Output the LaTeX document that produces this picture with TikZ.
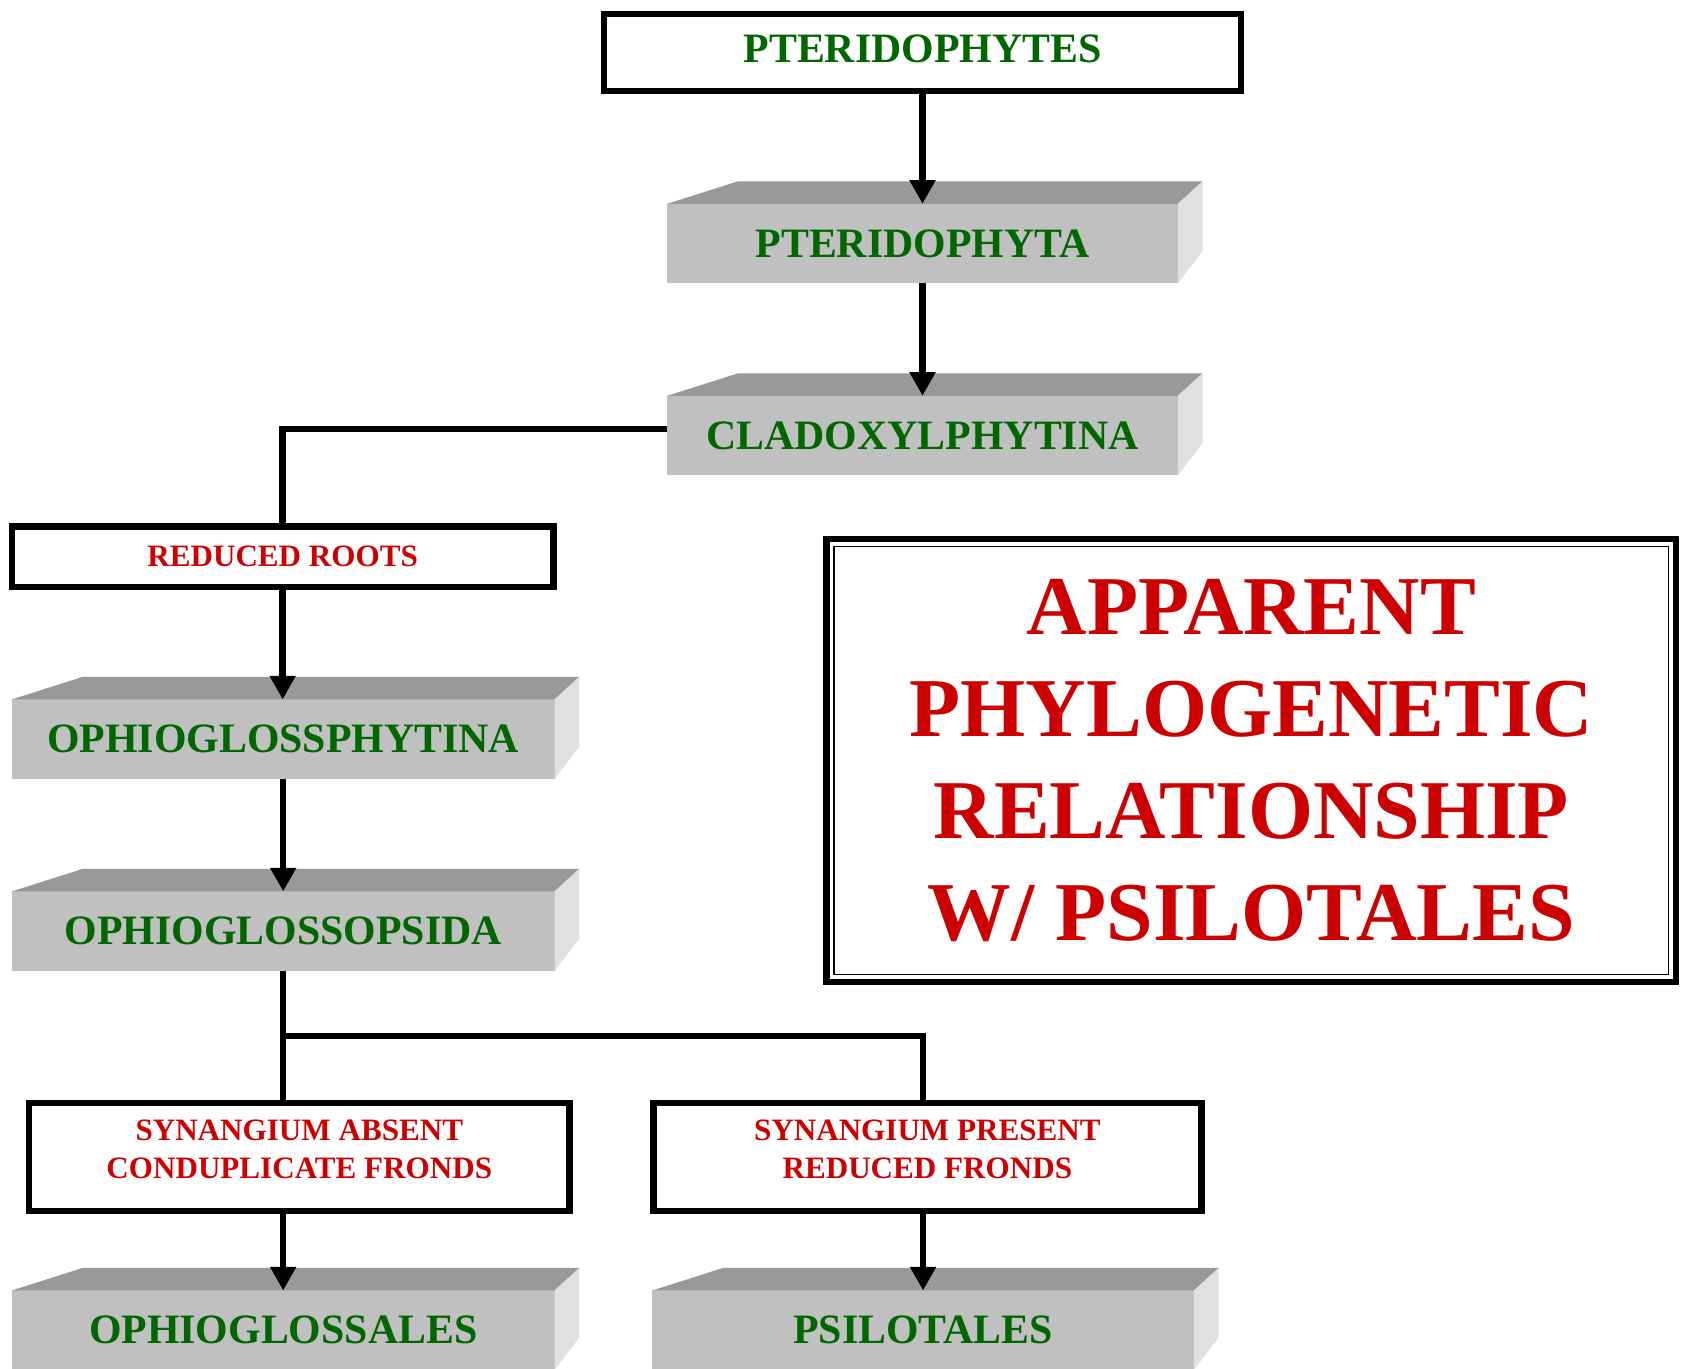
\documentclass[tikz,border=0pt]{standalone}
\usepackage{fontspec}
\setmainfont{Liberation Serif}
\usetikzlibrary{arrows.meta,calc}
\definecolor{leafgreen}{HTML}{006600}
\definecolor{rootred}{HTML}{CC0000}
\definecolor{slabfront}{HTML}{C0C0C0}
\definecolor{slabtopc}{HTML}{999999}
\definecolor{slabsidec}{HTML}{E0E0E0}
\tikzset{
  plainbox/.style={draw=black, line width=6pt, fill=white, inner sep=0pt, outer sep=0pt},
  slabbox/.style={fill=slabfront, inner sep=0pt, outer sep=0pt, minimum height=74pt},
  greenlabel/.style={text=leafgreen, font=\bfseries\fontsize{39}{47}\selectfont},
  redlabel/.style={text=rootred, font=\bfseries\fontsize{29}{35}\selectfont, align=center},
  redtitle/.style={text=rootred, font=\bfseries\fontsize{78}{95}\selectfont, align=center},
  conn/.style={line width=6pt, draw=black},
  arr/.style={conn, -{Triangle[width=23pt,length=22pt]}},
  slabtop/.style={fill=slabtopc},
  slabside/.style={fill=slabsidec}
}
\newcommand\slabfaces[1]{%
  \fill[slabtop] (#1.north west) -- ++(66,-21) -- ($(#1.north east)+(23,-21)$) -- (#1.north east) -- cycle;
  \fill[slabside] (#1.north east) -- ++(23,-21) -- ($(#1.south east)+(23,-30)$) -- (#1.south east) -- cycle;
}
\begin{document}
\begin{tikzpicture}[x=1pt,y=-1pt]
\useasboundingbox (0,0) rectangle (1568,1276);
\clip (0,0) rectangle (1568,1276);
\fill[white] (0,0) rectangle (1568,1276);

% plain boxes
\node[plainbox, minimum width=594pt, minimum height=72pt] (pteridophytes) at (860,49) {};
\node[greenlabel] at ([yshift=3pt]pteridophytes.center) {PTERIDOPHYTES};
\node[plainbox, redlabel, minimum width=505pt, minimum height=56pt] (reducedroots) at (263.5,519) {REDUCED ROOTS};
\node[plainbox, minimum width=504pt, minimum height=101pt] (synabsent) at (279,1078.5) {};
\node[redlabel] at ([yshift=7pt]synabsent.center) {SYNANGIUM ABSENT\\CONDUPLICATE FRONDS};
\node[plainbox, minimum width=511pt, minimum height=101pt] (synpresent) at (864.5,1078.5) {};
\node[redlabel] at ([yshift=7pt]synpresent.center) {SYNANGIUM PRESENT\\REDUCED FRONDS};

% 3D slabs
\node[slabbox, greenlabel, minimum width=476pt] (pteridophyta) at (860,227) {PTERIDOPHYTA};
\slabfaces{pteridophyta}
\node[slabbox, greenlabel, minimum width=476pt] (cladoxyl) at (860,406) {CLADOXYLPHYTINA};
\slabfaces{cladoxyl}
\node[slabbox, greenlabel, minimum width=506pt] (ophiophytina) at (264,689) {OPHIOGLOSSPHYTINA};
\slabfaces{ophiophytina}
\node[slabbox, greenlabel, minimum width=506pt] (ophiopsida) at (264,868) {OPHIOGLOSSOPSIDA};
\slabfaces{ophiopsida}
\node[slabbox, greenlabel, minimum width=506pt] (ophioglossales) at (264,1240) {OPHIOGLOSSALES};
\slabfaces{ophioglossales}
\node[slabbox, greenlabel, minimum width=505pt] (psilotales) at (860.5,1240) {PSILOTALES};
\slabfaces{psilotales}

% title box
\node[plainbox, redtitle, minimum width=792pt, minimum height=413pt] (title) at (1166.5,709) {APPARENT\\PHYLOGENETIC\\RELATIONSHIP\\W/ PSILOTALES};
\draw[line width=1.5pt] ([shift={(7,7)}]title.north west) rectangle ([shift={(-7,-7)}]title.south east);

% connectors
\draw[arr] (pteridophytes.south) -- (pteridophyta.north);
\draw[arr] (pteridophyta.south) -- (cladoxyl.north);
\draw[conn] ([yshift=6pt]cladoxyl.west) -| (reducedroots.north);
\draw[arr] (reducedroots.south) -- (reducedroots.south |- ophiophytina.north);
\draw[arr] (ophiophytina.south) -- (ophiopsida.north);
\coordinate (fork) at ($(ophiopsida.south)+(0,61)$);
\draw[conn] (ophiopsida.south) -- (ophiopsida.south |- synabsent.north);
\draw[conn] (fork) -| (psilotales.north |- synpresent.north);
\draw[arr] (ophioglossales.north |- synabsent.south) -- (ophioglossales.north);
\draw[arr] (psilotales.north |- synpresent.south) -- (psilotales.north);
\end{tikzpicture}
\end{document}
